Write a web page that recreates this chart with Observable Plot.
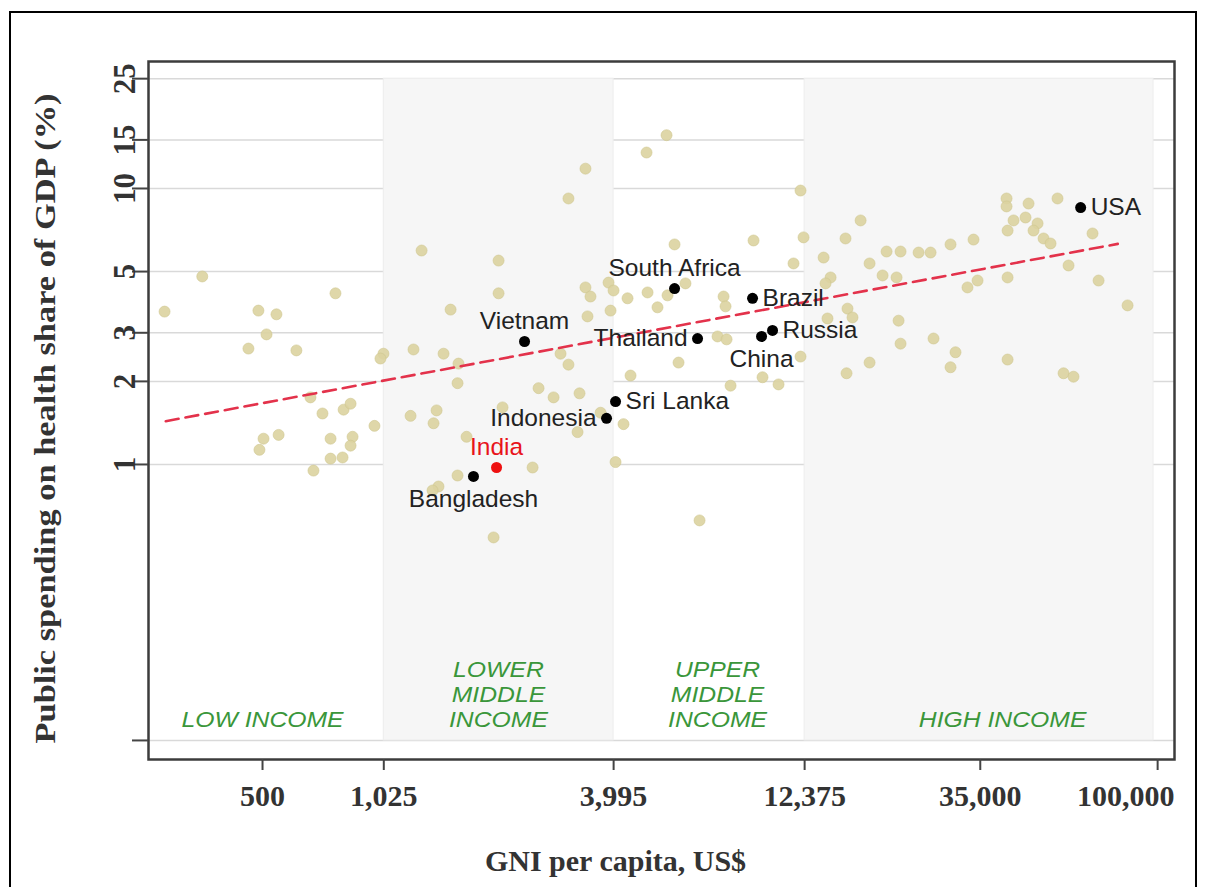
<!DOCTYPE html>
<html>
<head>
<meta charset="utf-8">
<script src="https://cdn.jsdelivr.net/npm/d3@7"></script>
<script src="https://cdn.jsdelivr.net/npm/@observablehq/plot@0.6"></script>
<style>
  html, body { margin: 0; padding: 0; background: #fff; }
  #wrap { position: relative; width: 1205px; height: 887px; overflow: hidden; background: #fff; }
  #chart { position: absolute; left: 0; top: 0; }
  #border { position: absolute; left: 9px; top: 11px; width: 1188px; height: 920px; border: 2px solid #000; box-sizing: border-box; pointer-events: none; }
</style>
</head>
<body>
<div id="wrap"><div id="chart"></div><div id="border"></div></div>
<script>
// ---- Data ----
// Background countries: GNI per capita (US$) and public health spending (% of GDP)
const gni = [
  280, 350, 488, 543, 512, 460, 611, 770, 664, 713, 808, 842, 970, 503, 550, 491, 748, 852, 842, 748, 803, 676, 1023, 1005,
  1282, 1522, 1222, 1460, 1595, 1586, 1201, 1401, 1376, 1673, 1586, 1417, 1368, 1963, 2022, 2022, 2070, 2473, 2562, 2800,
  3265, 3227, 3058, 2918, 3382, 3058, 3382, 3484, 3423, 3877, 3993, 3923, 3698, 4041, 4236,
  5465, 4855, 5730, 9146, 12295, 11588, 12078, 4338, 4884, 5180, 5497, 6113, 4416, 5867, 7391, 7796, 7659, 7749, 7983,
  9645, 10604, 12078, 6644,
  17236, 15764, 13845, 18176, 14430, 14007, 19630, 21324, 20100, 21835, 24293, 26080, 29350, 33630, 40890, 40890, 46580,
  55290, 42620, 45750, 49130, 41140, 47970, 50900, 53050, 68020, 59020, 70500, 83700, 41140, 32450, 34440, 15950, 16430,
  21580, 21835, 26540, 30230, 29350, 18176, 15860, 41140, 57300, 60780, 14170
];
const spend = [
  3.58, 4.80, 3.61, 3.50, 2.96, 2.63, 2.59, 4.17, 1.75, 1.53, 1.58, 1.66, 1.38, 1.24, 1.28, 1.13, 1.24, 1.26, 1.17, 1.05, 1.06, 0.95, 2.52, 2.42,
  5.96, 3.64, 2.61, 2.52, 2.32, 1.97, 1.50, 1.57, 1.41, 1.26, 0.912, 0.832, 0.805, 0.544, 5.48, 4.17, 1.61, 0.975, 1.89, 1.75,
  1.81, 1.31, 2.30, 2.52, 11.8, 9.20, 4.38, 4.06, 3.44, 4.56, 4.27, 3.61, 1.54, 1.02, 1.40,
  15.6, 13.5, 6.27, 6.48, 6.65, 5.35, 9.83, 4.00, 4.20, 3.71, 4.10, 4.53, 2.10, 2.34, 2.91, 2.84, 4.06, 3.74, 1.93,
  2.07, 1.95, 2.46, 0.627,
  7.66, 6.59, 5.62, 5.35, 4.76, 4.53, 4.84, 4.76, 5.91, 5.91, 5.86, 5.86, 6.27, 6.53, 9.20, 8.61, 8.82,
  9.20, 7.66, 7.85, 7.47, 7.04, 7.04, 6.59, 6.32, 6.87, 5.26, 4.64, 3.77, 4.76, 4.38, 4.64, 3.67, 3.41,
  3.32, 2.74, 2.86, 2.55, 2.25, 2.34, 2.14, 2.40, 2.14, 2.08, 3.38
];

// Highlighted countries
const countries = ["USA", "South Africa", "Brazil", "Russia", "China", "Thailand", "Vietnam", "Sri Lanka", "Indonesia", "India", "Bangladesh"];
const countryGni = [63400, 5730, 9092, 10233, 9590, 6566, 2358, 4041, 3831, 1998, 1743];
const countrySpend = [8.53, 4.34, 4.00, 3.06, 2.91, 2.86, 2.79, 1.69, 1.47, 0.975, 0.905];

// Fitted trend line (end points)
const trendGni = [282, 79000];
const trendSpend = [1.435, 6.30];

// Income groups (World Bank thresholds)
const incomeNames = ["LOW INCOME", "LOWER\nMIDDLE\nINCOME", "UPPER\nMIDDLE\nINCOME", "HIGH INCOME"];
const incomeLabelGni = [500, 2020, 7390, 39940];
const incomeEdges = [1025, 3995, 12375, 97600];
const panelBottom = 0.1, panelTop = 25;

// Axis ticks
const xTicks = [500, 1025, 3995, 12375, 35000, 100000];
const yTicks = [0.1, 1, 2, 3, 5, 10, 15, 25];
const yLabelTicks = [1, 2, 3, 5, 10, 15, 25];

// ---- Build ----
const bg = gni.map((g, i) => ({gni: g, spend: spend[i]}));
const hl = countries.map((c, i) => ({country: c, gni: countryGni[i], spend: countrySpend[i]}));
const trend = trendGni.map((g, i) => ({gni: g, spend: trendSpend[i]}));
const grayBands = [
  {x1: incomeEdges[0], x2: incomeEdges[1]},
  {x1: incomeEdges[2], x2: incomeEdges[3]}
];
const incomeLabels = incomeNames.map((n, i) => ({name: n, gni: incomeLabelGni[i]}));

const placement = {
  "USA": "right", "South Africa": "above", "Brazil": "right", "Russia": "right", "China": "below",
  "Thailand": "left", "Vietnam": "above", "Sri Lanka": "right", "Indonesia": "left", "India": "above", "Bangladesh": "below"
};
const placeStyle = {
  right: {dx: 10, textAnchor: "start"},
  left: {dx: -10, textAnchor: "end"},
  above: {dy: -20, textAnchor: "middle"},
  below: {dy: 23, textAnchor: "middle"}
};
const sans = "Liberation Sans, Arial, Helvetica, sans-serif";
const serif = "Liberation Serif, Times New Roman, serif";
const fmt = d3.format(",");

const labelMarks = Object.keys(placeStyle).map(p =>
  Plot.text(hl.filter(d => placement[d.country] === p && d.country !== "India"), {
    x: "gni", y: "spend", text: "country", fill: "#222", fontSize: 24.5, fontFamily: sans, ...placeStyle[p]
  })
);

const chart = Plot.plot({
  width: 1205,
  height: 887,
  marginLeft: 148,
  marginRight: 31,
  marginTop: 61,
  marginBottom: 128,
  style: {background: "transparent", overflow: "visible"},
  x: {type: "log", domain: [254.6, 110500]},
  y: {type: "log", domain: [0.0853, 28.85]},
  marks: [
    Plot.ruleY(yTicks, {stroke: "#d9d9d9", strokeWidth: 1.5}),
    Plot.rect(grayBands, {x1: "x1", x2: "x2", y1: panelBottom, y2: panelTop, fill: "#f6f6f6", stroke: "#ededed", strokeWidth: 1}),
    Plot.dot(bg, {x: "gni", y: "spend", r: 5.5, fill: "#dcd3a0", fillOpacity: 0.9, stroke: "#cfc68e", strokeWidth: 0.6}),
    Plot.line(trend, {x: "gni", y: "spend", stroke: "#e3324b", strokeWidth: 2.6, strokeDasharray: "13,7"}),
    Plot.dot(hl.filter(d => d.country !== "India"), {x: "gni", y: "spend", r: 5.5, fill: "#000"}),
    Plot.dot(hl.filter(d => d.country === "India"), {x: "gni", y: "spend", r: 5.5, fill: "#ee1111"}),
    ...labelMarks,
    Plot.text(hl.filter(d => d.country === "India"), {x: "gni", y: "spend", text: "country", fill: "#e8141b", fontSize: 24.5, fontFamily: sans, dy: -20}),
    Plot.text(incomeLabels, {x: "gni", frameAnchor: "bottom", text: "name", lineAnchor: "bottom", dy: -33,
      fill: "#3a963a", fontSize: 21.5, fontStyle: "italic", fontFamily: sans, lineHeight: 1.16, className: "income"}),
    Plot.frame({stroke: "#3c3c3c", strokeWidth: 2.5}),
    // tick marks
    Plot.axisY({ticks: yTicks, tickFormat: () => "", tickSize: 16, color: "#444", strokeWidth: 2, label: null}),
    Plot.axisX({ticks: xTicks, tickFormat: () => "", tickSize: 11, color: "#444", strokeWidth: 2, label: null}),
    // tick labels
    Plot.text(yLabelTicks, {y: d => d, frameAnchor: "left", text: d => String(d), rotate: -90, textAnchor: "middle", lineAnchor: "bottom",
      dx: -14, fontSize: 31, fontWeight: "bold", fontFamily: serif, fill: "#333"}),
    Plot.text(xTicks.filter(d => d < 100000), {x: d => d, frameAnchor: "bottom", text: d => fmt(d), lineAnchor: "middle", dy: 37,
      fontSize: 30, fontWeight: "bold", fontFamily: serif, fill: "#333"}),
    Plot.text(xTicks.filter(d => d >= 100000), {x: d => d, frameAnchor: "bottom", text: d => fmt(d), lineAnchor: "middle", dy: 37, dx: -32,
      fontSize: 30, fontWeight: "bold", fontFamily: serif, fill: "#333"}),
    // axis titles
    Plot.text(["GNI per capita, US$"], {frameAnchor: "bottom", lineAnchor: "middle", textAnchor: "middle", dy: 102, dx: -46,
      fontSize: 30, fontWeight: "bold", fontFamily: serif, fill: "#333"}),
    Plot.text(["Public spending on health share of GDP (%)"], {frameAnchor: "left", rotate: -90, textAnchor: "middle", lineAnchor: "middle",
      dx: -103, dy: 8, fontSize: 29, fontWeight: "bold", fontFamily: serif, fill: "#333", className: "ytitle"})
  ]
});
document.getElementById("chart").appendChild(chart);
d3.select(chart).selectAll(".ytitle text")
  .attr("textLength", 650)
  .attr("lengthAdjust", "spacingAndGlyphs");
// income-group labels are drawn slightly wide in the reference
d3.select(chart).selectAll(".income text").each(function () {
  const spans = this.querySelectorAll("tspan");
  const targets = spans.length ? Array.from(spans) : [this];
  targets.forEach(t => {
    const len = t.getComputedTextLength();
    if (len > 0) {
      t.setAttribute("textLength", (len * 1.15).toFixed(1));
      t.setAttribute("lengthAdjust", "spacingAndGlyphs");
    }
  });
});
</script>
</body>
</html>
